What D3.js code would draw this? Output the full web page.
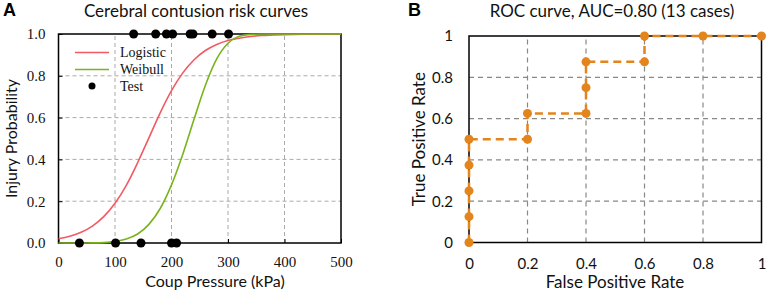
<!DOCTYPE html>
<html>
<head>
<meta charset="utf-8">
<script src="https://cdn.jsdelivr.net/npm/d3@7"></script>
<style>
  body { margin: 0; background: #fff; }
  svg { display: block; }
  .sans { font-family: Lato, "Liberation Sans", sans-serif; }
  .serif { font-family: "Liberation Serif", "Times New Roman", serif; }
</style>
</head>
<body>
<svg id="chart"></svg>
<script>
// Panel A: fitted risk curves
const pressure = [0, 20, 40, 60, 80, 100, 120, 140, 160, 180, 200, 220, 240, 260, 280, 300, 320, 340, 360, 380, 400, 450, 500];
const logistic = [0.020, 0.032, 0.051, 0.081, 0.126, 0.190, 0.276, 0.384, 0.503, 0.623, 0.729, 0.814, 0.877, 0.921, 0.950, 0.969, 0.980, 0.988, 0.993, 0.995, 0.997, 0.999, 1.0];
const weibull = [0, 0, 0.0001, 0.0004, 0.002, 0.007, 0.019, 0.043, 0.089, 0.165, 0.278, 0.425, 0.593, 0.755, 0.881, 0.956, 0.989, 0.998, 1.0, 1.0, 1.0, 1.0, 1.0];
const injuredTests = [133, 172, 191, 202, 233, 238, 272, 301];
const uninjuredTests = [37, 101, 146, 200, 209];
const xTicksA = [0, 100, 200, 300, 400, 500];
const yTicksA = [0, 0.2, 0.4, 0.6, 0.8, 1.0];

// Panel B: ROC curve
const fpr = [0, 0, 0, 0, 0, 0.2, 0.2, 0.4, 0.4, 0.4, 0.6, 0.6, 0.8, 1];
const tpr = [0, 0.125, 0.25, 0.375, 0.5, 0.5, 0.625, 0.625, 0.75, 0.875, 0.875, 1, 1, 1];
const ticksB = [0, 0.2, 0.4, 0.6, 0.8, 1];

const width = 768, height = 292;
const svg = d3.select("#chart").attr("width", width).attr("height", height);

const red = "#f25a63", green = "#78b41e", orange = "#e3841c";

// ---------- Panel A ----------
const xA = d3.scaleLinear().domain([0, 500]).range([58.5, 341]);
const yA = d3.scaleLinear().domain([0, 1]).range([243, 34]);
const gA = svg.append("g");

gA.append("g")
  .selectAll("line")
  .data(xTicksA.slice(1, -1))
  .join("line")
  .attr("x1", d => xA(d)).attr("x2", d => xA(d))
  .attr("y1", yA(0)).attr("y2", yA(1))
  .attr("stroke", "#aaa").attr("stroke-dasharray", "4,3").attr("stroke-width", 1);
gA.append("g")
  .selectAll("line")
  .data(yTicksA.slice(1, -1))
  .join("line")
  .attr("x1", xA(0)).attr("x2", xA(500))
  .attr("y1", d => yA(d)).attr("y2", d => yA(d))
  .attr("stroke", "#aaa").attr("stroke-dasharray", "4,3").attr("stroke-width", 1);

// axes with inner ticks
const axA1 = gA.append("g").attr("transform", `translate(0,${yA(0)})`)
  .call(d3.axisBottom(xA).tickValues(xTicksA).tickSizeInner(-4).tickSizeOuter(0).tickPadding(13));
const axA2 = gA.append("g").attr("transform", `translate(${xA(0)},0)`)
  .call(d3.axisLeft(yA).tickValues(yTicksA).tickFormat(d3.format(".1f")).tickSizeInner(-4).tickSizeOuter(0).tickPadding(13));
[axA1, axA2].forEach(a => {
  a.select(".domain").remove();
  a.selectAll("line").attr("stroke", "#000");
  a.selectAll("text").attr("class", "serif").attr("font-size", 15).attr("fill", "#111");
});

gA.append("rect")
  .attr("x", xA(0)).attr("y", yA(1))
  .attr("width", xA(500) - xA(0)).attr("height", yA(0) - yA(1))
  .attr("fill", "none").attr("stroke", "#000").attr("stroke-width", 1.5);

const lineA = d3.line().x((d, i) => xA(pressure[i])).y(d => yA(d)).curve(d3.curveMonotoneX);
gA.append("path").datum(logistic).attr("d", lineA)
  .attr("fill", "none").attr("stroke", red).attr("stroke-width", 1.6);
gA.append("path").datum(weibull).attr("d", lineA)
  .attr("fill", "none").attr("stroke", green).attr("stroke-width", 1.6);

gA.append("g").selectAll("circle")
  .data(injuredTests.map(v => [v, 1]).concat(uninjuredTests.map(v => [v, 0])))
  .join("circle")
  .attr("cx", d => xA(d[0])).attr("cy", d => yA(d[1]))
  .attr("r", 4.5).attr("fill", "#000");

// legend
const leg = gA.append("g").attr("class", "serif").attr("font-size", 14);
leg.append("line").attr("x1", 75).attr("x2", 109).attr("y1", 52.5).attr("y2", 52.5)
  .attr("stroke", red).attr("stroke-width", 1.6);
leg.append("line").attr("x1", 75).attr("x2", 109).attr("y1", 69.5).attr("y2", 69.5)
  .attr("stroke", green).attr("stroke-width", 1.6);
leg.append("circle").attr("cx", 92).attr("cy", 86).attr("r", 3.5).attr("fill", "#000");
leg.selectAll("text").data(["Logistic", "Weibull", "Test"]).join("text")
  .attr("x", 120).attr("y", (d, i) => 57 + i * 17).text(d => d).attr("fill", "#111");

svg.append("text").attr("class", "sans").attr("x", 196).attr("y", 17)
  .attr("text-anchor", "middle").attr("font-size", 17).attr("fill", "#111")
  .text("Cerebral contusion risk curves");
svg.append("text").attr("class", "sans").attr("x", 215).attr("y", 287)
  .attr("text-anchor", "middle").attr("font-size", 16).attr("fill", "#111")
  .text("Coup Pressure (kPa)");
svg.append("text").attr("class", "sans")
  .attr("transform", `translate(17,${(yA(0) + yA(1)) / 2}) rotate(-90)`)
  .attr("text-anchor", "middle").attr("font-size", 16).attr("fill", "#111")
  .text("Injury Probability");
svg.append("text").attr("x", 3).attr("y", 16)
  .attr("font-family", "Liberation Sans, Arial, sans-serif").attr("font-weight", "bold")
  .attr("font-size", 18).text("A");

// ---------- Panel B ----------
const xB = d3.scaleLinear().domain([0, 1]).range([469, 761.5]);
const yB = d3.scaleLinear().domain([0, 1]).range([242.5, 36]);
const gB = svg.append("g");

gB.append("g").selectAll("line")
  .data(ticksB.slice(1, -1))
  .join("line")
  .attr("x1", d => xB(d)).attr("x2", d => xB(d))
  .attr("y1", yB(0)).attr("y2", yB(1))
  .attr("stroke", "#888").attr("stroke-dasharray", "5,4").attr("stroke-width", 1.2);
gB.append("g").selectAll("line")
  .data(ticksB.slice(1, -1))
  .join("line")
  .attr("x1", xB(0)).attr("x2", xB(1))
  .attr("y1", d => yB(d)).attr("y2", d => yB(d))
  .attr("stroke", "#888").attr("stroke-dasharray", "5,4").attr("stroke-width", 1.2);

const axB1 = gB.append("g").attr("transform", `translate(0,${yB(0)})`)
  .call(d3.axisBottom(xB).tickValues(ticksB).tickFormat(d3.format("")).tickSize(0).tickPadding(16));
const axB2 = gB.append("g").attr("transform", `translate(${xB(0)},0)`)
  .call(d3.axisLeft(yB).tickValues(ticksB).tickFormat(d3.format("")).tickSize(0).tickPadding(16));
[axB1, axB2].forEach(a => {
  a.select(".domain").remove();
  a.selectAll("text").attr("class", "sans").attr("font-size", 15).attr("fill", "#111");
});

gB.append("rect")
  .attr("x", xB(0)).attr("y", yB(1))
  .attr("width", xB(1) - xB(0)).attr("height", yB(0) - yB(1))
  .attr("fill", "none").attr("stroke", "#000").attr("stroke-width", 1.5);

const roc = fpr.map((f, i) => ({ f, t: tpr[i] }));
gB.append("path").datum(roc)
  .attr("d", d3.line().x(d => xB(d.f)).y(d => yB(d.t)))
  .attr("fill", "none").attr("stroke", orange).attr("stroke-width", 2.5)
  .attr("stroke-dasharray", "8,5");
gB.append("g").selectAll("circle").data(roc).join("circle")
  .attr("cx", d => xB(d.f)).attr("cy", d => yB(d.t))
  .attr("r", 4.5).attr("fill", orange);

svg.append("text").attr("class", "sans").attr("x", 612).attr("y", 17)
  .attr("text-anchor", "middle").attr("font-size", 17).attr("fill", "#111")
  .text("ROC curve, AUC=0.80 (13 cases)");
svg.append("text").attr("class", "sans").attr("x", 615).attr("y", 288)
  .attr("text-anchor", "middle").attr("font-size", 17).attr("fill", "#111")
  .text("False Positive Rate");
svg.append("text").attr("class", "sans")
  .attr("transform", `translate(425,${(yB(0) + yB(1)) / 2}) rotate(-90)`)
  .attr("text-anchor", "middle").attr("font-size", 17).attr("fill", "#111")
  .text("True Positive Rate");
svg.append("text").attr("x", 408).attr("y", 16)
  .attr("font-family", "Liberation Sans, Arial, sans-serif").attr("font-weight", "bold")
  .attr("font-size", 18).text("B");
</script>
</body>
</html>
